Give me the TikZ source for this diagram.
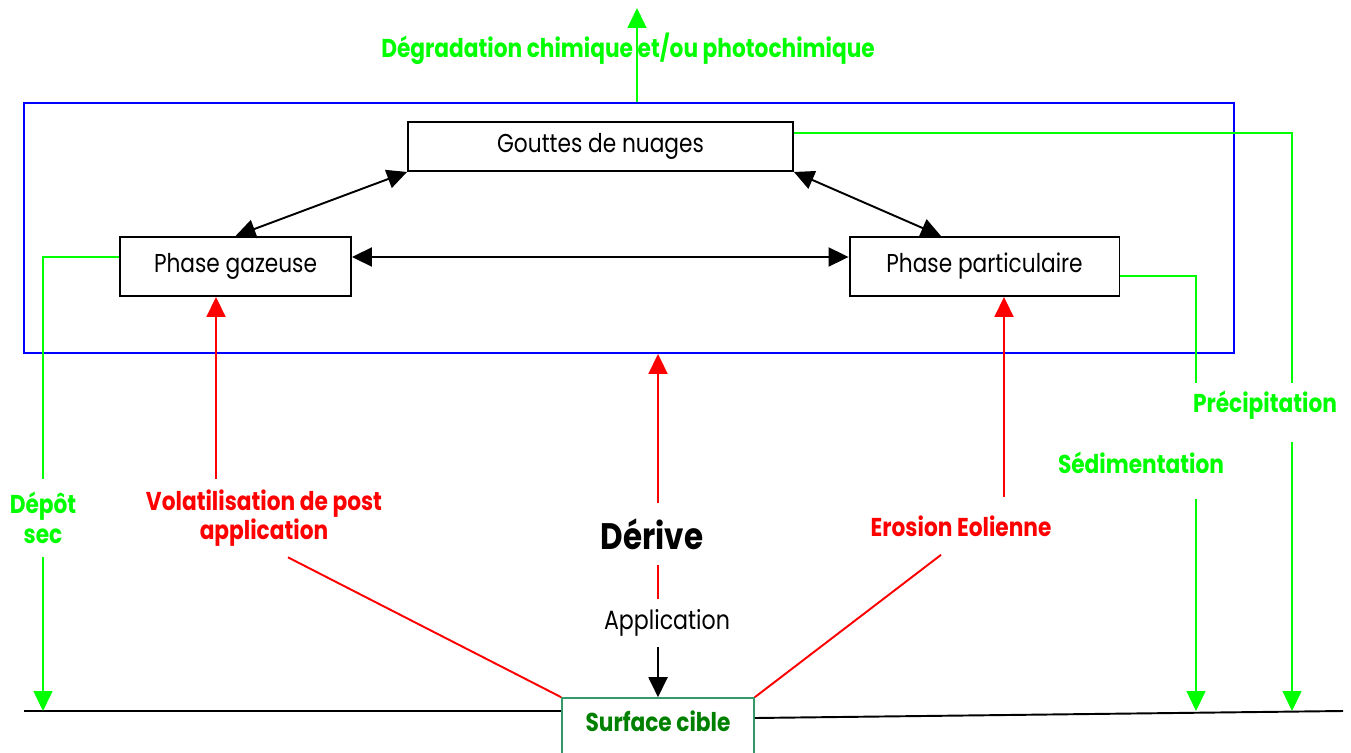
\documentclass[tikz,border=0pt]{standalone}
\usepackage{fontspec}
\setmainfont[FakeStretch=0.84]{Poppins}
\usepackage{xcolor}
\usepackage{tikz}
\usetikzlibrary{arrows.meta}
\usetikzlibrary{positioning,calc}
\definecolor{vert}{RGB}{0,255,0}
\definecolor{rouge}{RGB}{255,0,0}
\definecolor{bleu}{RGB}{0,0,255}
\definecolor{vertmer}{RGB}{51,153,102}
\definecolor{vertfonce}{RGB}{0,128,0}

\begin{document}
\begin{tikzpicture}[
  x=0.02cm, y=-0.02cm,
  >={Triangle[length=0.4cm, width=0.38cm]},
  boite/.style={draw, line width=1.1pt, inner sep=0pt, font=\fontsize{14.7}{17}\selectfont},
  dbl/.style={<->, line width=1.1pt},
  vlien/.style={vert, line width=0.85pt},
  vflux/.style={->, vert, line width=0.85pt},
  rlien/.style={rouge, line width=1.1pt},
  rflux/.style={->, rouge, line width=1.1pt},
  gtxt/.style={text=vert, font=\bfseries\fontsize{14.7}{16.8}\selectfont, align=center, inner sep=0pt},
  rtxt/.style={text=rouge, font=\bfseries\fontsize{14.7}{16.8}\selectfont, align=center, inner sep=0pt},
  ntxt/.style={font=\fontsize{15}{17}\selectfont, inner sep=0pt}
]
\useasboundingbox (0,0) rectangle (1351,753);

\node[draw=bleu, line width=1.1pt, minimum width=24.2cm, minimum height=5cm] (atm) at (629,228) {};
\node[boite, minimum width=7.7cm, minimum height=0.98cm] (gn) at (600.5,146.5) {Gouttes de nuages};
\node[boite, minimum width=4.62cm, minimum height=1.18cm] (pg) at (235.5,266.5) {Phase gazeuse};
\node[boite, minimum width=5.4cm, minimum height=1.18cm] (pp) at (984.5,266.5) {Phase particulaire};
\node[draw=vertmer, line width=0.9pt, minimum width=3.84cm, minimum height=1.6cm, inner sep=0pt] (sc) at (658,738) {};
\node[text=vertfonce, font=\bfseries\fontsize{14.7}{17}\selectfont, inner sep=0pt] (sctxt) at (658,721) {Surface cible};

\coordinate (haut) at (637,8);
\coordinate (sol g) at (24,711);
\coordinate (sol d) at (1343,711);
\coordinate (s1) at (1196,383);
\coordinate (s2) at (1196,499);
\coordinate (p1) at (1292,383);
\coordinate (p2) at (1292,442);

\node[gtxt] (degr) at (628,49) {Dégradation chimique et/ou photochimique};
\node[gtxt, minimum height=1.56cm] (depot) at (43,518) {Dépôt\\sec};
\node[rtxt, minimum height=1.56cm] (vola) at (264,518) {Volatilisation de post\\application};
\node[font=\bfseries\fontsize{21}{24}\selectfont, inner sep=0pt, minimum height=1.22cm] (derive) at (652,534) {Dérive};
\node[ntxt, minimum height=0.96cm] (app) at (667,623) {Application};
\node[rtxt, minimum height=1.14cm] (ero) at (961,526) {Erosion Eolienne};
\node[gtxt] (sed) at (1141,463) {Sédimentation};
\node[gtxt] (prec) at (1265,405) {Précipitation};

\draw[line width=1.1pt] (sol g) -- (sol g -| sc.west);
\draw[line width=1.1pt] ([yshift=0.4cm]sc.east) -- (sol d);

\draw[vflux] (haut |- atm.north) -- (haut);
\draw[dbl] (gn.south west) -- (pg.north);
\draw[dbl] (gn.south east) -- ($(pp.north west)!0.34!(pp.north east)$);
\draw[dbl] ([yshift=0.19cm]pg.east) -- ([yshift=0.19cm]pp.west);

\draw[vlien] ([yshift=0.19cm]pg.west) -| (depot.north);
\draw[vflux] (depot.south) -- (depot.south |- sol g);
\draw[vlien] ([yshift=-0.19cm]pp.east) -| (s1);
\draw[vflux] (s2) -- (s2 |- sol d);
\draw[vlien] ([yshift=0.27cm]gn.east) -| (p1);
\draw[vflux] (p2) -- (p2 |- sol d);

\coordinate (vg) at ([xshift=-0.39cm]pg.south);
\coordinate (vd) at ([xshift=0.39cm]pp.south);
\draw[rflux] (vg |- vola.north) -- (vg);
\draw[rlien] ([xshift=0.48cm]vola.south) -- (sc.north west);
\draw[rflux] (vd |- ero.north) -- (vd);
\draw[rlien] ([xshift=-0.4cm]ero.south) -- (sc.north east);
\draw[rflux] (derive.north -| sc.north) -- (sc.north |- atm.south);
\draw[rlien] (derive.south -| sc.north) -- (app.north -| sc.north);
\draw[->, line width=1.1pt] (app.south -| sc.north) -- (sc.north);
\end{tikzpicture}
\end{document}
